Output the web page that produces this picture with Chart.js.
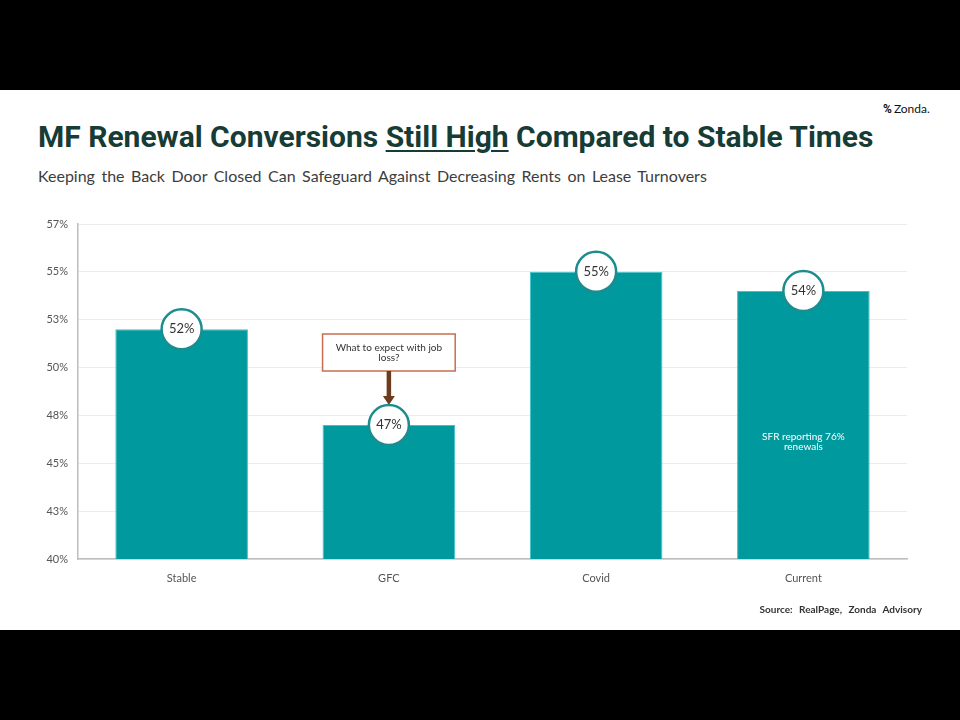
<!DOCTYPE html>
<html>
<head>
<meta charset="utf-8">
<script src="https://cdn.jsdelivr.net/npm/chart.js@4/dist/chart.umd.min.js"></script>
<style>
  html, body { margin: 0; padding: 0; background: #000; }
  #page { position: relative; width: 960px; height: 720px; background: #000; overflow: hidden; }
  #slide { position: absolute; left: 0; top: 90px; width: 960px; height: 540px; background: #fff; }
  #title { position: absolute; left: 38px; top: 119px; font: bold 30px Roboto, sans-serif; color: #173b35; white-space: nowrap; letter-spacing: 0px; }
  #title u { text-decoration-thickness: 2px; text-underline-offset: 3px; }
  #subtitle { position: absolute; left: 38px; top: 166px; font: 16px Lato, sans-serif; color: #3d3d3d; word-spacing: 2.4px; white-space: nowrap; }
  #logo { position: absolute; left: 883px; top: 101px; font: 12px Lato, sans-serif; color: #111; white-space: nowrap; }
  #logo b { font: bold 12px Roboto, sans-serif; margin-right: 2px; }
  #source { position: absolute; right: 38px; top: 603px; font: bold 10px Lato, sans-serif; color: #333; word-spacing: 4px; white-space: nowrap; }
  #c { position: absolute; left: 0; top: 0; }
</style>
</head>
<body>
<div id="page">
  <div id="slide"></div>
  <div id="logo"><b>%</b>Zonda.</div>
  <div id="title">MF Renewal Conversions <u>Still High</u> Compared to Stable Times</div>
  <div id="subtitle">Keeping the Back Door Closed Can Safeguard Against Decreasing Rents on Lease Turnovers</div>
  <canvas id="c" width="960" height="720"></canvas>
  <div id="source">Source: RealPage, Zonda Advisory</div>
</div>
<script>
// chart data
const categories = ['Stable', 'GFC', 'Covid', 'Current'];
const renewalRate = [52, 47, 55, 54];
const valueLabels = ['52%', '47%', '55%', '54%'];
const tickLabels = ['40%', '43%', '45%', '48%', '50%', '53%', '55%', '57%'];

const teal = '#009a9e';

// circles with % labels, callout box and SFR note
const overlayPlugin = {
    id: 'overlay',
    afterDatasetsDraw(chart) {
        const ctx = chart.ctx;
        const bars = chart.getDatasetMeta(0).data;

        // callout over GFC
        const g = bars[1];
        const boxBottom = g.y - 54;
        const boxTop = boxBottom - 37;
        const boxW = g.width;
        ctx.save();
        ctx.fillStyle = '#fff';
        ctx.strokeStyle = '#c4704f';
        ctx.lineWidth = 1.5;
        ctx.fillRect(g.x - boxW / 2, boxTop, boxW, 37);
        ctx.strokeRect(g.x - boxW / 2, boxTop, boxW, 37);
        ctx.fillStyle = '#333';
        ctx.font = '10px Lato, sans-serif';
        ctx.textAlign = 'center';
        ctx.textBaseline = 'middle';
        ctx.fillText('What to expect with job', g.x, boxTop + 14);
        ctx.fillText('loss?', g.x, boxTop + 24);
        // arrow
        ctx.strokeStyle = '#6b3d1e';
        ctx.fillStyle = '#6b3d1e';
        ctx.lineWidth = 4.5;
        ctx.beginPath();
        ctx.moveTo(g.x, boxBottom);
        ctx.lineTo(g.x, g.y - 28);
        ctx.stroke();
        ctx.beginPath();
        ctx.moveTo(g.x - 6, g.y - 29);
        ctx.lineTo(g.x + 6, g.y - 29);
        ctx.lineTo(g.x, g.y - 20);
        ctx.closePath();
        ctx.fill();
        ctx.restore();

        // value circles
        bars.forEach((bar, i) => {
            ctx.save();
            ctx.beginPath();
            ctx.arc(bar.x, bar.y, 20, 0, Math.PI * 2);
            ctx.fillStyle = '#fff';
            ctx.fill();
            ctx.lineWidth = 2.5;
            ctx.strokeStyle = '#1c8c8e';
            ctx.stroke();
            ctx.fillStyle = '#333';
            ctx.font = '13px Lato, sans-serif';
            ctx.textAlign = 'center';
            ctx.textBaseline = 'middle';
            ctx.fillText(valueLabels[i], bar.x, bar.y);
            ctx.restore();
        });

        // SFR note inside Current bar
        const cur = bars[3];
        ctx.save();
        ctx.fillStyle = '#fff';
        ctx.font = '10px Lato, sans-serif';
        ctx.textAlign = 'center';
        ctx.textBaseline = 'middle';
        ctx.fillText('SFR reporting 76%', cur.x, cur.y + 146);
        ctx.fillText('renewals', cur.x, cur.y + 156);
        ctx.restore();
    }
};

new Chart(document.getElementById('c'), {
    type: 'bar',
    data: {
        labels: categories,
        datasets: [{
            data: renewalRate,
            backgroundColor: teal,
            borderColor: '#3cc3c5',
            borderWidth: 1,
            barPercentage: 0.64,
            categoryPercentage: 1
        }]
    },
    options: {
        responsive: false,
        animation: false,
        layout: { padding: { top: 224, right: 53, left: 0, bottom: 0 } },
        plugins: {
            legend: { display: false },
            tooltip: { enabled: false }
        },
        scales: {
            x: {
                grid: { display: false, drawTicks: false },
                border: { color: '#bdbdbd', width: 1.5 },
                ticks: { color: '#555', font: { family: 'Lato', size: 11 }, padding: 13 },
                afterFit: (s) => { s.height = 161; }
            },
            y: {
                min: 40,
                max: 57.5,
                grid: { color: '#ececec', drawTicks: false },
                border: { color: '#bdbdbd', width: 1.5 },
                ticks: {
                    stepSize: 2.5,
                    color: '#555',
                    font: { family: 'Lato', size: 11 },
                    padding: 10,
                    callback: (v, i) => tickLabels[i]
                },
                afterFit: (s) => { s.width = 78; }
            }
        }
    },
    plugins: [overlayPlugin]
});
</script>
</body>
</html>
